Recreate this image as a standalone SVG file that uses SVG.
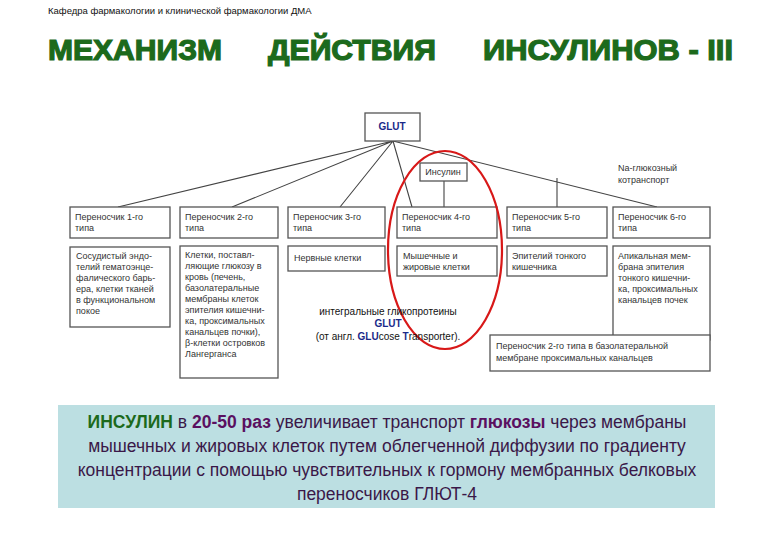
<svg xmlns="http://www.w3.org/2000/svg" width="780" height="540" viewBox="0 0 780 540">
<style>
.b{fill:#fff;stroke:#555;stroke-width:1.3}
.t{font-family:"Liberation Sans",Arial,sans-serif;font-size:9px;fill:#333}
.h{font-family:"Liberation Sans",Arial,sans-serif;font-size:29px;font-weight:bold;fill:#1c6a1c;stroke:#1c6a1c;stroke-width:1.2}
.c{stroke:#444;stroke-width:1.1;fill:none}
.m{font-family:"Liberation Sans",Arial,sans-serif;font-size:17.5px;fill:#3a1848}
</style>
<rect width="780" height="540" fill="#fff"/>
<text x="48" y="14" style="font-family:'Liberation Sans',sans-serif;font-size:9.5px" fill="#111">Кафедра  фармакологии и клинической фармакологии ДМА</text>
<text class="h" x="48" y="60" textLength="174" lengthAdjust="spacingAndGlyphs">МЕХАНИЗМ</text>
<text class="h" x="268" y="60" textLength="168" lengthAdjust="spacingAndGlyphs">ДЕЙСТВИЯ</text>
<text class="h" x="483" y="60" textLength="250" lengthAdjust="spacingAndGlyphs">ИНСУЛИНОВ - III</text>
<g id="connectors">
<path class="c" d="M393 141 L118 207 M393 141 L232 207 M393 141 L340 207 M393 141 L412 207 M393 141 L657 207 M557 178 L557 207 M444 180 L444 207 M660 340 L660 335"/>
</g>
<g id="glut"><rect class="b" x="365" y="113" width="55" height="28"/><text x="392" y="130" text-anchor="middle" style="font-family:'Liberation Sans',sans-serif;font-size:10px;font-weight:bold" fill="#1a2a8a">GLUT</text></g>
<g id="insulin"><rect class="b" x="420" y="163" width="47" height="18"/><text class="t" x="443" y="175" text-anchor="middle">Инсулин</text></g>
<g id="na"><text class="t" x="618" y="171">Na-глюкозный</text><text class="t" x="618" y="183">котранспорт</text></g>
<g id="t1"><rect class="b" x="70" y="207" width="100" height="31"/><text class="t" x="75" y="220">Переносчик 1-го</text><text class="t" x="75" y="231">типа</text></g>
<g id="t2"><rect class="b" x="180" y="207" width="98" height="31"/><text class="t" x="185" y="220">Переносчик 2-го</text><text class="t" x="185" y="231">типа</text></g>
<g id="t3"><rect class="b" x="288" y="207" width="97" height="31"/><text class="t" x="293" y="220">Переносчик 3-го</text><text class="t" x="293" y="231">типа</text></g>
<g id="t4"><rect class="b" x="397" y="207" width="100" height="31"/><text class="t" x="402" y="220">Переносчик 4-го</text><text class="t" x="402" y="231">типа</text></g>
<g id="t5"><rect class="b" x="507" y="207" width="100" height="31"/><text class="t" x="512" y="220">Переносчик 5-го</text><text class="t" x="512" y="231">типа</text></g>
<g id="t6"><rect class="b" x="613" y="207" width="97" height="31"/><text class="t" x="618" y="220">Переносчик 6-го</text><text class="t" x="618" y="231">типа</text></g>
<g id="d1"><rect class="b" x="70" y="247" width="100" height="80"/><text class="t" x="76" y="259">Сосудистый эндо-</text><text class="t" x="76" y="270">телий гематоэнце-</text><text class="t" x="76" y="281">фалического барь-</text><text class="t" x="76" y="292">ера, клетки тканей</text><text class="t" x="76" y="303">в функциональном</text><text class="t" x="76" y="314">покое</text></g>
<g id="d2"><rect class="b" x="180" y="246" width="98" height="132"/><text class="t" x="185" y="258">Клетки, поставл-</text><text class="t" x="185" y="269">ляющие глюкозу в</text><text class="t" x="185" y="280">кровь (печень,</text><text class="t" x="185" y="291">базолатеральные</text><text class="t" x="185" y="302">мембраны клеток</text><text class="t" x="185" y="313">эпителия кишечни-</text><text class="t" x="185" y="324">ка, проксимальных</text><text class="t" x="185" y="335">канальцев почки),</text><text class="t" x="185" y="346">β-клетки островков</text><text class="t" x="185" y="357">Лангерганса</text></g>
<g id="d3"><rect class="b" x="288" y="246" width="97" height="25"/><text class="t" x="294" y="261">Нервные клетки</text></g>
<g id="d4"><rect class="b" x="397" y="246" width="100" height="30"/><text class="t" x="403" y="259">Мышечные и</text><text class="t" x="403" y="270">жировые клетки</text></g>
<g id="d5"><rect class="b" x="507" y="246" width="100" height="30"/><text class="t" x="512" y="259">Эпителий тонкого</text><text class="t" x="512" y="270">кишечника</text></g>
<g id="d6"><rect class="b" x="613" y="246" width="97" height="94"/><text class="t" x="618" y="259">Апикальная мем-</text><text class="t" x="618" y="270">брана эпителия</text><text class="t" x="618" y="281">тонкого кишечни-</text><text class="t" x="618" y="292">ка, проксимальных</text><text class="t" x="618" y="303">канальцев почек</text></g>
<g id="d7"><rect class="b" x="490" y="335" width="220" height="36"/><text class="t" x="496" y="349">Переносчик 2-го типа в базолатеральной</text><text class="t" x="496" y="361">мембране проксимальных канальцев</text></g>
<ellipse cx="445" cy="250" rx="57" ry="99" fill="none" stroke="#d81818" stroke-width="2.2"/>
<g id="note" style="font-family:'Liberation Sans',sans-serif;font-size:10px" text-anchor="middle"><text x="388" y="315" fill="#111">интегральные гликопротеины</text><text x="388" y="327" fill="#1a2a8a" font-weight="bold">GLUT</text><text x="388" y="340" fill="#111">(от англ. <tspan fill="#1a2a8a" font-weight="bold">GLU</tspan>cose <tspan fill="#1a2a8a" font-weight="bold">T</tspan>ransporter).</text></g>
<g id="info"><rect x="58" y="405" width="657" height="103" fill="#bcdfe2"/>
<g class="m" text-anchor="middle"><text x="387" y="428"><tspan fill="#1c6a1c" font-weight="bold">ИНСУЛИН</tspan> в <tspan font-weight="bold" fill="#5a1060">20-50 раз</tspan> увеличивает транспорт <tspan font-weight="bold" fill="#5a1060">глюкозы</tspan> через мембраны</text><text x="387" y="452">мышечных и жировых клеток путем облегченной диффузии по градиенту</text><text x="387" y="476">концентрации с помощью чувствительных к гормону мембранных белковых</text><text x="387" y="500">переносчиков ГЛЮТ-4</text></g></g>
</svg>
